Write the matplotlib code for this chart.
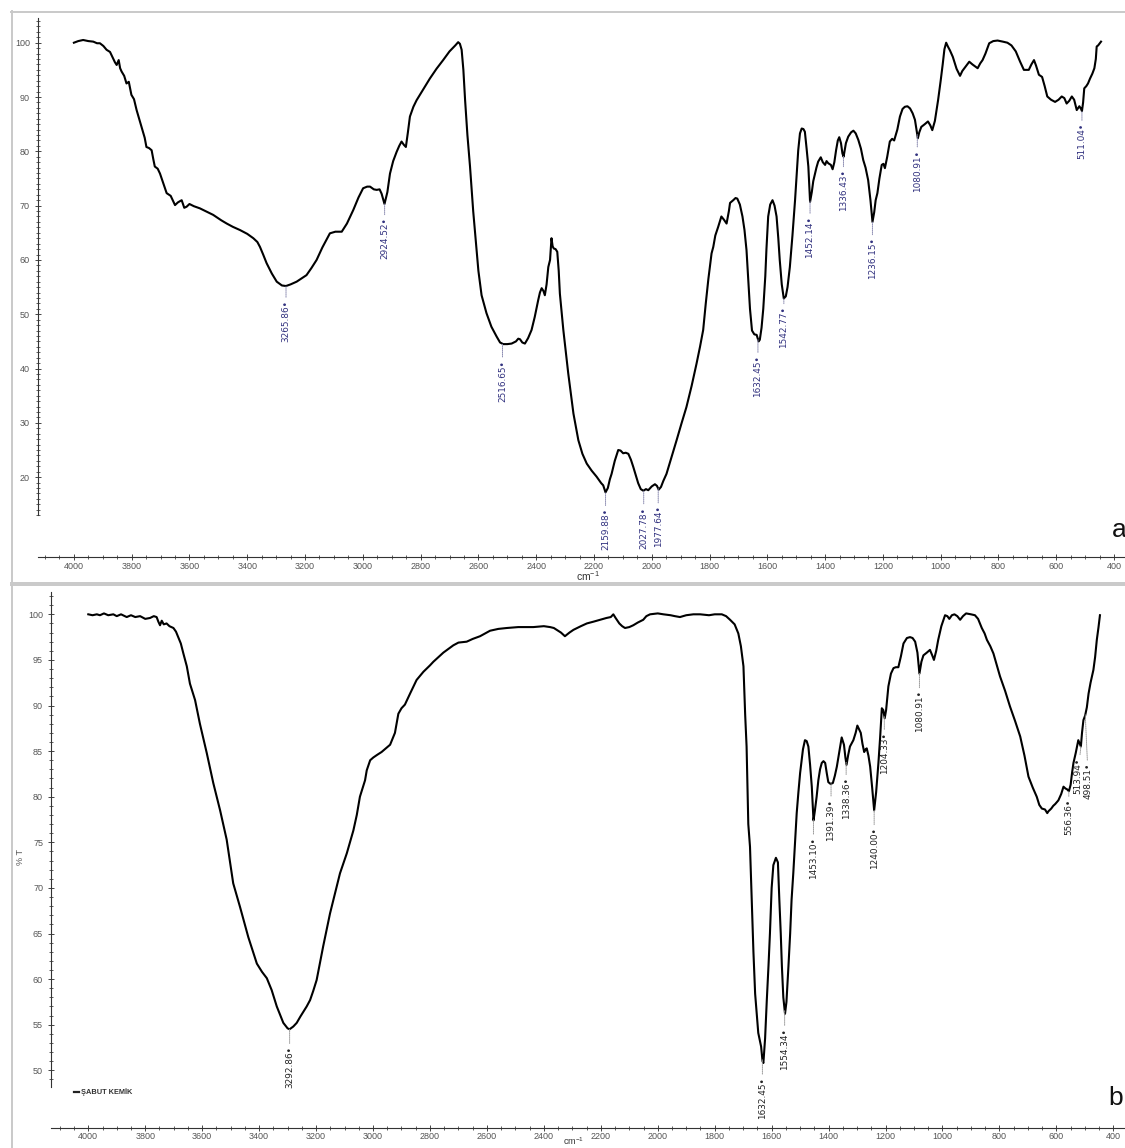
import numpy as np
import matplotlib
matplotlib.use("Agg")
import matplotlib.pyplot as plt
from matplotlib.ticker import MultipleLocator, FixedLocator
from matplotlib.lines import Line2D

plt.rcParams['font.family'] = ['Liberation Sans', 'DejaVu Sans']
plt.rcParams['mathtext.default'] = 'regular'

## data : spectrum a  (wavenumber cm-1, %T)
wn_a = [4000, 3985, 3968, 3950, 3933, 3920, 3910, 3898, 3887, 3875, 3864, 3858, 3852, 3845,
        3840, 3835, 3826, 3818, 3810, 3801, 3792, 3783, 3766, 3755, 3749, 3740, 3731, 3725,
        3720, 3710, 3702, 3690, 3679, 3665, 3650, 3640, 3627, 3618, 3610, 3600, 3585, 3564,
        3545, 3518, 3490, 3471, 3450, 3425, 3400, 3379, 3365, 3356, 3345, 3333, 3315, 3298,
        3280, 3266, 3250, 3229, 3212, 3195, 3178, 3160, 3140, 3114, 3095, 3073, 3055, 3033,
        3015, 2999, 2985, 2975, 2962, 2952, 2942, 2935, 2925, 2915, 2906, 2895, 2883, 2874,
        2866, 2858, 2851, 2844, 2837, 2825, 2814, 2790, 2768, 2745, 2722, 2700, 2680, 2670,
        2664, 2658, 2652, 2646, 2638, 2629, 2618, 2606, 2600, 2589, 2572, 2555, 2537, 2525,
        2514, 2500, 2485, 2470, 2462, 2456, 2448, 2439, 2428, 2416, 2405, 2393, 2387, 2381,
        2375, 2370, 2364, 2358, 2352, 2347, 2343, 2339, 2333, 2327, 2322, 2318, 2312, 2306,
        2289, 2271, 2254, 2240, 2225, 2208, 2191, 2175, 2168, 2160, 2152, 2145, 2139, 2128,
        2116, 2108, 2099, 2090, 2081, 2072, 2064, 2055, 2047, 2038, 2029, 2020, 2012, 2000,
        1989, 1982, 1976, 1968, 1960, 1949, 1932, 1914, 1897, 1880, 1862, 1845, 1833, 1822,
        1813, 1804, 1793, 1787, 1780, 1770, 1759, 1750, 1741, 1733, 1729, 1718, 1710, 1704,
        1695, 1686, 1679, 1672, 1666, 1660, 1653, 1645, 1637, 1630, 1626, 1620, 1614, 1607,
        1603, 1597, 1590, 1582, 1575, 1568, 1562, 1557, 1550, 1543, 1536, 1530, 1522, 1513,
        1504, 1498, 1493, 1487, 1481, 1475, 1470, 1464, 1458, 1452, 1446, 1441, 1435, 1430,
        1424, 1415, 1408, 1400, 1395, 1389, 1380, 1374, 1368, 1362, 1356, 1351, 1345, 1340,
        1336, 1328, 1320, 1310, 1302, 1294, 1285, 1276, 1268, 1260, 1251, 1243, 1236, 1230,
        1225, 1219, 1212, 1204, 1198, 1193, 1185, 1176, 1168, 1161, 1150, 1141, 1132, 1124,
        1115, 1106, 1097, 1089, 1083, 1079, 1074, 1067, 1055, 1044, 1036, 1029, 1020, 1009,
        1000, 993, 987, 981, 975, 968, 958, 945, 933, 925, 915, 901, 890, 880, 872, 863, 855,
        845, 832, 818, 803, 785, 769, 755, 740, 725, 712, 703, 695, 686, 677, 670, 660, 649,
        640, 631, 618, 604, 592, 581, 572, 564, 555, 546, 538, 529, 520, 514, 511, 507, 503,
        496, 490, 483, 475, 468, 463, 460, 455, 448, 445]
t_a = [100.0, 100.3, 100.5, 100.3, 100.2, 99.9, 99.9, 99.4, 98.7, 98.3, 97.1, 96.4, 95.9, 96.8,
       95.3, 94.7, 93.9, 92.5, 92.8, 90.4, 89.6, 87.6, 84.5, 82.5, 80.8, 80.6, 80.2, 78.5,
       77.2, 76.8, 75.9, 74.0, 72.3, 71.8, 70.1, 70.6, 71.0, 69.6, 69.8, 70.3, 69.9, 69.5,
       69.0, 68.3, 67.3, 66.7, 66.1, 65.5, 64.8, 64.0, 63.3, 62.4, 61.0, 59.4, 57.5, 56.0,
       55.3, 55.2, 55.5, 56.0, 56.6, 57.2, 58.5, 60.0, 62.3, 64.9, 65.2, 65.2, 66.7, 69.2,
       71.5, 73.2, 73.5, 73.5, 73.0, 72.9, 73.0, 72.2, 70.3, 72.5, 75.9, 78.2, 79.9, 81.0,
       81.8, 81.2, 80.8, 83.5, 86.4, 88.2, 89.4, 91.5, 93.4, 95.2, 96.8, 98.4, 99.5, 100.1,
       99.8, 98.7, 95.0, 89.4, 83.0, 77.2, 69.0, 61.8, 58.0, 53.5, 50.2, 47.7, 45.9, 44.8,
       44.5, 44.5, 44.6, 45.0, 45.5, 45.4, 44.8, 44.6, 45.6, 47.1, 49.5, 52.6, 54.0, 54.8,
       54.3, 53.5, 55.5, 58.7, 60.0, 64.0, 62.5, 62.1, 62.0, 61.5, 58.0, 53.8, 50.5, 47.1,
       39.1, 31.7, 26.8, 24.3, 22.5, 21.2, 20.1, 18.9, 18.5, 17.2, 18.0, 19.6, 20.6, 23.0,
       25.0, 24.9, 24.4, 24.5, 24.3, 23.2, 21.9, 20.3, 18.9, 17.8, 17.5, 17.8, 17.6, 18.3,
       18.7, 18.4, 17.7, 18.2, 19.3, 20.6, 23.6, 26.8, 29.9, 32.9, 36.8, 40.9, 44.0, 47.1,
       52.0, 56.5, 61.2, 62.4, 64.5, 66.1, 68.0, 67.4, 66.7, 69.0, 70.5, 71.0, 71.4, 71.3,
       70.2, 68.0, 65.5, 61.8, 56.3, 51.0, 47.0, 46.3, 46.2, 45.0, 45.3, 47.5, 51.0, 57.0,
       62.0, 68.0, 70.2, 71.0, 70.0, 68.0, 64.0, 60.0, 55.5, 52.9, 53.3, 55.0, 58.7, 64.5,
       71.0, 76.0, 80.2, 83.3, 84.2, 84.1, 83.6, 80.5, 77.2, 70.7, 72.5, 74.5, 75.9, 77.0,
       78.1, 78.9, 78.0, 77.5, 78.2, 77.8, 77.5, 76.7, 78.0, 80.2, 82.0, 82.6, 81.5, 79.6,
       79.0, 81.5, 82.7, 83.5, 83.8, 83.3, 82.1, 80.5, 78.4, 77.0, 74.7, 71.0, 67.0, 68.8,
       71.0, 72.3, 75.0, 77.5, 77.7, 76.9, 79.0, 81.8, 82.3, 82.0, 84.0, 86.4, 87.8, 88.2,
       88.3, 87.9, 87.0, 85.8, 83.8, 82.4, 83.5, 84.5, 85.0, 85.5, 84.8, 83.9, 85.6, 89.4,
       93.0, 96.0, 98.8, 100.0, 99.3, 98.6, 97.4, 95.2, 93.9, 94.8, 95.5, 96.5, 96.0, 95.6,
       95.3, 96.2, 96.8, 98.0, 99.9, 100.3, 100.4, 100.2, 100.0, 99.5, 98.4, 96.5, 95.0,
       95.0, 95.0, 96.0, 96.8, 95.8, 94.1, 93.7, 92.0, 90.1, 89.5, 89.1, 89.5, 90.1, 89.8,
       88.8, 89.3, 90.1, 89.5, 87.6, 88.3, 87.8, 87.4, 89.0, 91.6, 92.0, 92.5, 93.4, 94.3,
       95.3, 97.0, 99.3, 99.5, 100.0, 100.2]

peaks_a = [3265.86, 2924.52, 2516.65, 2159.88, 2027.78, 1977.64, 1632.45, 1542.77,
           1452.14, 1336.43, 1236.15, 1080.91, 511.04]

## data : spectrum b
wn_b = [4000, 3985, 3970, 3959, 3945, 3930, 3912, 3900, 3885, 3865, 3850, 3835, 3818, 3800,
        3783, 3770, 3760, 3754, 3748, 3742, 3735, 3725, 3715, 3701, 3692, 3684, 3675, 3666,
        3654, 3643, 3625, 3608, 3584, 3561, 3537, 3514, 3491, 3467, 3438, 3408, 3390, 3373,
        3356, 3338, 3315, 3300, 3293, 3280, 3268, 3255, 3245, 3233, 3221, 3210, 3198, 3175,
        3151, 3128, 3116, 3105, 3092, 3069, 3057, 3046, 3028, 3022, 3010, 2999, 2985, 2970,
        2955, 2940, 2923, 2911, 2900, 2888, 2870, 2847, 2823, 2800, 2788, 2753, 2718, 2700,
        2671, 2650, 2624, 2589, 2560, 2530, 2490, 2437, 2400, 2378, 2365, 2355, 2340, 2326,
        2310, 2296, 2270, 2249, 2225, 2203, 2180, 2165, 2156, 2148, 2135, 2125, 2115, 2100,
        2086, 2070, 2051, 2040, 2027, 2000, 1980, 1955, 1940, 1922, 1900, 1875, 1851, 1820,
        1800, 1775, 1760, 1746, 1730, 1717, 1708, 1699, 1693, 1688, 1682, 1676, 1670, 1664,
        1658, 1652, 1647, 1641, 1637, 1632, 1629, 1623, 1617, 1611, 1606, 1600, 1594, 1585,
        1578, 1573, 1568, 1564, 1559, 1553, 1548, 1541, 1535, 1530, 1524, 1518, 1512, 1506,
        1500, 1490, 1483, 1477, 1471, 1465, 1459, 1453, 1448, 1442, 1436, 1430, 1424, 1418,
        1412, 1406, 1401, 1393, 1385, 1378, 1371, 1362, 1354, 1346, 1341, 1337, 1331, 1325,
        1313, 1305, 1299, 1293, 1287, 1281, 1275, 1270, 1266, 1260, 1254, 1247, 1240, 1233,
        1225, 1219, 1213, 1208, 1203, 1198, 1190, 1181, 1172, 1164, 1155, 1146, 1137, 1125,
        1114, 1105, 1096, 1088, 1081, 1074, 1067, 1055, 1044, 1036, 1030, 1022, 1015, 1004,
        991, 983, 976, 967, 958, 948, 938, 928, 917, 900, 886, 875, 862, 852, 844, 832, 821,
        810, 798, 780, 763, 745, 727, 712, 698, 683, 669, 660, 651, 640, 632, 628, 618, 611,
        604, 593, 583, 575, 568, 562, 556, 550, 545, 540, 532, 523, 518, 514, 510, 505, 499,
        493, 487, 480, 470, 464, 458, 452, 447]
t_b = [100.0, 99.9, 100.0, 99.9, 100.1, 99.9, 100.0, 99.8, 100.0, 99.7, 99.9, 99.7, 99.8, 99.5,
       99.6, 99.8, 99.7, 99.2, 98.8, 99.3, 98.9, 99.0, 98.7, 98.5, 98.1, 97.5, 96.8, 95.7,
       94.3, 92.4, 90.6, 88.0, 84.8, 81.5, 78.5, 75.3, 70.5, 67.9, 64.6, 61.7, 60.8, 60.1,
       58.8, 57.0, 55.2, 54.6, 54.5, 54.8, 55.2, 55.9, 56.4, 57.0, 57.7, 58.7, 59.9, 63.6,
       67.2, 70.1, 71.6, 72.6, 73.8, 76.3, 78.0, 80.0, 81.8, 82.9, 84.0, 84.3, 84.6, 84.9,
       85.3, 85.7, 87.0, 89.1, 89.7, 90.1, 91.3, 92.8, 93.7, 94.4, 94.8, 95.8, 96.6, 96.9,
       97.0, 97.3, 97.6, 98.2, 98.4, 98.5, 98.6, 98.6, 98.7, 98.6, 98.5, 98.3, 98.0, 97.6,
       98.0, 98.3, 98.7, 99.0, 99.2, 99.4, 99.6, 99.7, 100.0, 99.6, 99.0, 98.7, 98.5, 98.6,
       98.8, 99.1, 99.4, 99.8, 100.0, 100.1, 100.0, 99.9, 99.8, 99.7, 99.9, 100.0, 100.0, 99.9,
       100.0, 100.0, 99.8, 99.4, 98.9, 97.9, 96.5, 94.3, 89.0, 85.5, 77.0, 74.5, 68.7, 63.0,
       58.4, 56.0, 54.1, 53.2, 52.6, 51.0, 50.8, 53.5, 57.7, 61.5, 65.0, 70.0, 72.5, 73.3,
       72.8, 68.7, 65.0, 61.4, 58.0, 56.2, 57.5, 61.4, 65.0, 68.7, 71.6, 75.0, 78.2, 80.5,
       82.6, 85.2, 86.2, 86.1, 85.5, 83.5, 81.1, 77.4, 78.5, 80.0, 81.8, 83.0, 83.7, 83.9,
       83.7, 82.5, 81.6, 81.4, 81.5, 82.3, 83.3, 85.0, 86.5, 85.7, 84.3, 83.5, 84.6, 85.5,
       86.2, 87.0, 87.8, 87.4, 87.0, 85.8, 84.9, 85.2, 85.3, 84.5, 83.3, 81.0, 78.5, 80.5,
       83.7, 86.5, 89.7, 89.5, 88.6, 89.5, 92.1, 93.5, 94.1, 94.2, 94.2, 95.4, 96.8, 97.4,
       97.5, 97.4, 97.0, 95.8, 93.5, 94.8, 95.5, 95.8, 96.1, 95.5, 95.0, 96.0, 97.2, 98.7,
       99.9, 99.8, 99.5, 99.9, 100.0, 99.8, 99.4, 99.8, 100.1, 100.0, 99.9, 99.5, 98.5, 97.9,
       97.2, 96.5, 95.7, 94.5, 93.2, 91.6, 89.9, 88.3, 86.6, 84.5, 82.2, 81.0, 80.0, 79.1,
       78.7, 78.6, 78.2, 78.4, 78.7, 79.0, 79.2, 79.6, 80.3, 81.1, 80.9, 80.8, 80.6, 81.3,
       82.6, 83.7, 84.8, 86.2, 85.8, 85.5, 87.0, 88.4, 88.9, 89.8, 91.3, 92.5, 93.9, 95.3,
       97.2, 98.6, 99.9]

peaks_b = [3292.86, 1632.45, 1554.34, 1453.10, 1391.39, 1338.36, 1240.00, 1204.33,
           1080.91, 556.36, 513.94, 498.51]

# label placement (px): drop below curve, sideways nudge
gap_a = [14, 14, 16, 16, 16, 17, 16, 8, 15, 13, 16, 15, 12]
gap_b = [17, 17, 18, 17, 15, 15, 17, 16, 17, 8, 11, 48]
dx_a = [0] * len(peaks_a)
dx_b = [0, 0, 0, 0, 0, 0, 0, 0, 0, 0, -3, 3]

W, H = 1125, 1148
fig = plt.figure(figsize=(W / 100, H / 100), dpi=100)

def fy(py):
    return 1 - py / H

# light panel frames
frame = '#c9c9c9'
for (x0, y0, x1, y1) in [(11, 11.5, W, 11.5), (11.5, 11, 11.5, 582), (11, 582.5, W, 582.5),
                         (11, 585, W, 585), (11.5, 585, 11.5, H)]:
    fig.add_artist(Line2D([x0 / W, x1 / W], [fy(y0), fy(y1)], color=frame, lw=1.4))

def style_axis(ax, ybounds, ymajor, xpad):
    for s in ['top', 'right']:
        ax.spines[s].set_visible(False)
    for s in ['left', 'bottom']:
        ax.spines[s].set_color('#333333')
        ax.spines[s].set_linewidth(0.8)
    ax.spines['left'].set_bounds(*ybounds)
    ax.xaxis.set_major_locator(MultipleLocator(200))
    ax.xaxis.set_minor_locator(MultipleLocator(50))
    lo, hi = ybounds
    ymaj = np.arange(np.ceil(lo / ymajor) * ymajor, hi + 0.01, ymajor)
    ymin = np.arange(np.ceil(lo), hi + 0.01, 1)
    ax.yaxis.set_major_locator(FixedLocator(ymaj))
    ax.yaxis.set_minor_locator(FixedLocator(ymin))
    ax.yaxis.set_major_formatter(lambda v, pos: f'{v:.0f}')
    ax.tick_params(which='major', direction='inout', length=5, width=0.7,
                   colors='#444444', labelsize=6.5, labelcolor='#555555')
    ax.tick_params(which='minor', direction='inout', length=2.5, width=0.6, colors='#444444')
    ax.tick_params(axis='x', which='major', pad=xpad)
    ax.tick_params(axis='y', which='major', pad=3)

def label_peaks(ax, wn, t, peaks, gaps, dxs, col, linecol):
    xs = np.array(wn[::-1], float)
    ys = np.array(t[::-1], float)
    for p, g, d in zip(peaks, gaps, dxs):
        yc = np.interp(p, xs, ys)
        ax.annotate(f'{p:.2f}\u2022', xy=(p, yc), xytext=(d * 0.72, -g * 0.72),
                    textcoords='offset points', rotation=90, ha='center', va='top',
                    fontsize=6.4, color=col, family=['Liberation Sans Narrow', 'DejaVu Sans'],
                    arrowprops=dict(arrowstyle='-', linestyle=(0, (1, 1)), color=linecol,
                                    lw=0.7, shrinkA=0, shrinkB=0))

## panel a
ax1 = fig.add_axes([37.5 / W, fy(557), (W - 37.5) / W, (557 - 18) / H])
ax1.plot(wn_a, t_a, color='black', lw=1.5)
ax1.set_xlim(4126, 362)
ax1.set_ylim(5.3, 104.55)
style_axis(ax1, (13.0, 104.55), 10, 1.0)
label_peaks(ax1, wn_a, t_a, peaks_a, gap_a, dx_a, '#30307e', '#8a8ab0')

## panel b
ax2 = fig.add_axes([50.7 / W, fy(1128.3), (W - 50.7) / W, (1128.3 - 591.7) / H])
ax2.plot(wn_b, t_b, color='black', lw=1.5)
ax2.set_xlim(4132, 359)
ax2.set_ylim(43.64, 102.48)
style_axis(ax2, (48.2, 102.48), 5, 0.5)
label_peaks(ax2, wn_b, t_b, peaks_b, gap_b, dx_b, '#222222', '#9a9a9a')

# axis titles and panel letters
fig.text(588 / W, fy(583), r'cm$^{-1}$', ha='center', va='bottom', fontsize=7.5, color='#333333')
fig.text(574 / W, fy(1147), r'cm$^{-1}$', ha='center', va='bottom', fontsize=6.5, color='#333333')
fig.text(20.7 / W, fy(857), '% T', rotation=90, ha='center', va='center', fontsize=6.5,
         color='#555555')
fig.text(1112 / W, fy(537), 'a', fontsize=19, va='baseline', color='#111111')
fig.text(1108 / W, fy(1105), 'b', fontsize=19, va='baseline', color='#111111')

# legend entry
fig.add_artist(Line2D([74 / W, 79 / W], [fy(1091.7), fy(1091.7)], color='#222222', lw=1.6))
fig.text(81 / W, fy(1091.7), 'ŞABUT KEMİK', fontsize=5.3, fontweight='bold',
         color='#333333', va='center')

fig.savefig('out.png', dpi=100)
